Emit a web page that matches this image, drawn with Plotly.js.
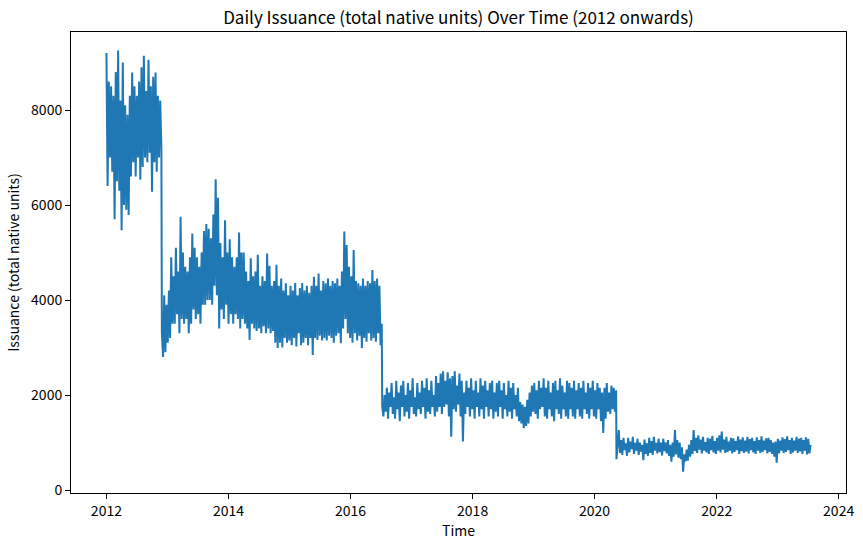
<!DOCTYPE html>
<html>
<head>
<meta charset="utf-8">
<script src="https://cdn.plot.ly/plotly-3.0.1.min.js"></script>
<style>html,body{margin:0;padding:0;background:#fff;}#chart{width:863px;height:546px;}</style>
</head>
<body>
<div id="chart"></div>
<script>
// Weekly readings (total native units), one array per issuance era
const era1Start = "2012-01-01";
const era1Values = [
  9200, 6400, 8600, 7000, 8500, 6700, 8300, 5700, 8800, 6500,
  9250, 6300, 8200, 5470, 9000, 6000, 8100, 5900, 7900, 5790,
  8300, 6600, 8790, 6900, 8500, 6600, 8300, 7000, 8600, 6530,
  8900, 6800, 9140, 7000, 8400, 6900, 9060, 7100, 8500, 6280,
  8700, 6900, 8790, 6700, 8300, 7000, 8200, 7200
];
const era2Start = "2012-11-28";
const era2Values = [
  3300, 2800, 4100, 2900, 3900, 3100, 4200, 3200, 4900, 3500,
  4500, 3500, 5100, 3700, 4600, 3300, 5750, 3600, 5000, 3500,
  4700, 3600, 4600, 3300, 4900, 3500, 5400, 3800, 5100, 3600,
  4900, 3700, 4700, 3500, 5000, 3900, 5450, 3900, 5600, 4000,
  5500, 4000, 5300, 3900, 5800, 4300, 6540, 4100, 6150, 3400,
  5200, 3800, 4900, 3600, 5680, 3900, 5000, 3500, 5280, 3700,
  4900, 3500, 4700, 3700, 4900, 3600, 5420, 3400, 5000, 3600,
  5000, 3500, 4600, 3400, 4400, 3160, 4880, 3500, 4500, 3400,
  4600, 3350, 4950, 3400, 4300, 3300, 4500, 3450, 4400, 3300,
  4980, 3400, 4720, 3300, 4300, 3350, 4400, 3100, 4740, 2990,
  4300, 3100, 4450, 3000, 4200, 3200, 4350, 3100, 4100, 3150,
  4300, 3050, 4200, 3200, 4360, 3020, 4100, 3300, 4250, 3050,
  4360, 3100, 4200, 3200, 4300, 3050, 4150, 3200, 4300, 2840,
  4490, 3200, 4300, 3160, 4560, 3250, 4200, 3150, 4400, 3200,
  4350, 3150, 4450, 3250, 4300, 3200, 4400, 3100, 4350, 3250,
  4450, 3300, 4300, 3090, 4600, 3400, 5440, 3600, 5160, 3300,
  4700, 3200, 4500, 3100, 5050, 3300, 4400, 3150, 4350, 3250,
  4300, 2990, 4450, 3200, 4300, 3120, 4400, 3300, 4350, 3150,
  4630, 3200, 4400, 3120, 4450, 3300, 4300, 3050, 3500
];
const era3Start = "2016-07-09";
const era3Values = [
  1750, 1550, 2000, 1650, 2150, 1500, 2050, 1750, 2250, 1600,
  1950, 1500, 2300, 1700, 2050, 1450, 2200, 1750, 2300, 1550,
  2000, 1650, 2250, 1500, 2100, 1750, 2350, 1600, 1950, 1550,
  2250, 1700, 2050, 1600, 2300, 1750, 2150, 1500, 2350, 1650,
  2100, 1600, 2300, 1750, 2000, 1550, 2400, 1650, 2250, 1750,
  2450, 1600, 2500, 1750, 2300, 1800, 2480, 1550, 2350, 1120,
  2400, 1700, 2500, 1650, 2200, 1800, 2450, 1550, 2300, 1020,
  2050, 1600, 2300, 1750, 2150, 1550, 2350, 1700, 2100, 1500,
  2300, 1750, 2050, 1550, 2350, 1700, 2200, 1500, 2300, 1750,
  2100, 1550, 2250, 1700, 2300, 1500, 2050, 1650, 2250, 1550,
  2300, 1750, 2100, 1500, 2250, 1700, 2000, 1550, 2300, 1650,
  2150, 1500, 2250, 1700, 2000, 1550, 2150, 1450, 1850, 1400,
  1800, 1300, 1750, 1350, 1900, 1400, 2050, 1550, 2200, 1650,
  2250, 1600, 2100, 1500, 2300, 1700, 2150, 1750, 2350, 1550,
  2150, 1500, 2300, 1700, 2050, 1550, 2250, 1450, 2300, 1700,
  2100, 1600, 2350, 1500, 2200, 1700, 2050, 1550, 2300, 1500,
  2250, 1700, 2150, 1550, 2300, 1500, 2100, 1700, 2250, 1550,
  2150, 1500, 2300, 1700, 2050, 1600, 2250, 1500, 2150, 1700,
  2300, 1550, 2100, 1500, 2250, 1700, 2150, 1450, 2050, 1200,
  2150, 1500, 2250, 1650, 2050, 1600, 2200, 1700, 2150, 1650, 2100
];
const era4Start = "2020-05-11";
const era4Values = [
  650, 1000, 1260, 780, 1050, 740, 1100, 840, 980, 720,
  1100, 790, 1020, 860, 1120, 760, 990, 830, 1080, 740,
  1000, 810, 950, 630, 1060, 760, 980, 720, 1100, 780,
  1030, 740, 1120, 830, 990, 770, 1080, 800, 1000, 730,
  1080, 820, 1000, 770, 1050, 720, 950, 596, 1000, 700,
  1263, 750, 1050, 680, 1000, 650, 900, 386, 750, 600,
  850, 620, 950, 700, 1050, 760, 1263, 820, 1100, 780,
  1150, 850, 1060, 770, 1120, 830, 1010, 790, 1100, 760,
  1080, 840, 1140, 790, 1030, 760, 1100, 830, 1150, 790,
  1228, 850, 1060, 780, 1120, 800, 1020, 830, 1100, 770,
  1090, 800, 1030, 840, 1130, 760, 1060, 820, 1110, 780,
  1040, 810, 1120, 770, 1070, 840, 1100, 790, 1030, 760,
  1110, 830, 1050, 780, 1130, 800, 1040, 840, 1090, 770,
  1100, 800, 1050, 760, 1000, 700, 1020, 575, 1080, 770,
  1040, 830, 1110, 780, 1070, 800, 1130, 840, 1050, 760,
  1100, 790, 1040, 830, 1120, 780, 1080, 810, 1100, 760,
  1050, 830, 1110, 750, 1080, 770, 950
];
const stepDays = 7;
const yTicks = [0, 2000, 4000, 6000, 8000];

function datesFrom(start, n) {
  const t0 = Date.parse(start + "T00:00:00Z");
  const out = [];
  for (let i = 0; i < n; i++) {
    out.push(new Date(t0 + i * stepDays * 86400000).toISOString().slice(0, 10));
  }
  return out;
}
const eras = [[era1Start, era1Values], [era2Start, era2Values], [era3Start, era3Values], [era4Start, era4Values]];
let xs = [], ys = [];
eras.forEach(([s, v]) => { xs = xs.concat(datesFrom(s, v.length)); ys = ys.concat(v); });

const font = "Noto Sans CJK JP, Noto Sans, sans-serif";
const trace = {x: xs, y: ys, type: "scatter", mode: "lines", line: {color: "#1f77b4", width: 2}, hoverinfo: "skip"};
const layout = {
  width: 863, height: 546,
  margin: {l: 71, r: 17, t: 32, b: 53, pad: 0},
  paper_bgcolor: "#fff", plot_bgcolor: "#fff",
  font: {family: font, size: 14, color: "#000"},
  showlegend: false,
  title: {text: "Daily Issuance (total native units) Over Time (2012 onwards)", font: {family: font, size: 17, color: "#000"},
          x: 0.5, xref: "paper", xanchor: "center", y: 1 - 18 / 546, yref: "container", yanchor: "middle"},
  xaxis: {type: "date", range: ["2011-06-03", "2024-02-14"], tick0: "2012-01-01", dtick: "M24", tickformat: "%Y",
          showgrid: false, zeroline: false, showline: true, mirror: true, linecolor: "#000", linewidth: 1,
          ticks: "outside", ticklen: 5, tickwidth: 1, tickcolor: "#000", tickfont: {size: 14},
          title: {text: "Time", font: {size: 14}, standoff: 5}},
  yaxis: {range: [-63, 9642], tickvals: yTicks, ticktext: yTicks.map(String),
          showgrid: false, zeroline: false, showline: true, mirror: true, linecolor: "#000", linewidth: 1,
          ticks: "outside", ticklen: 5, tickwidth: 1, tickcolor: "#000", tickfont: {size: 14},
          title: {text: "Issuance (total native units)", font: {size: 14}, standoff: 8}}
};
Plotly.newPlot("chart", [trace], layout, {staticPlot: true, displayModeBar: false});
</script>
</body>
</html>
